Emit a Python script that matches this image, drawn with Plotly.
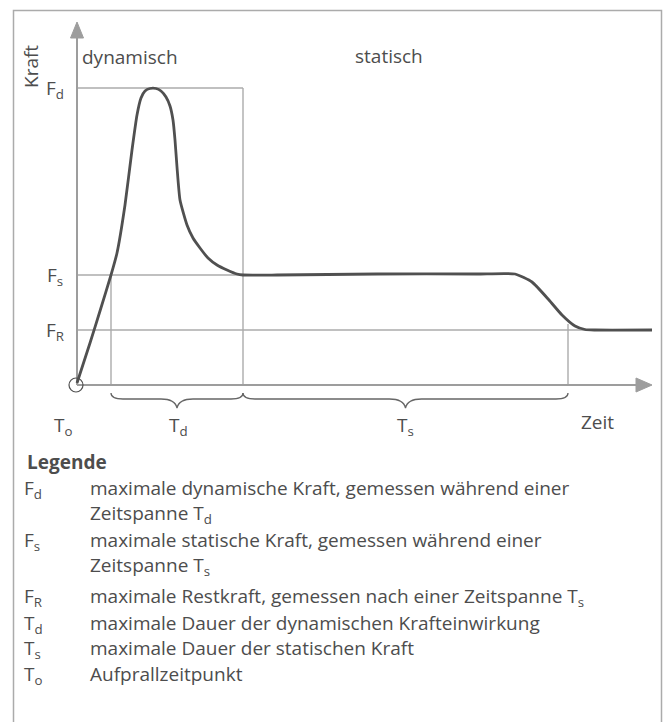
import plotly.graph_objects as go

# ---- data (time / force in arbitrary schematic units) ----
curve_t = [0, 13, 23, 34, 40, 48, 55, 60, 64, 68, 73, 79, 84, 89, 93, 96, 98, 100, 103, 110, 116, 123, 131, 140, 150, 160, 166,
           200, 300, 400, 438, 455, 472, 485, 498, 508, 518, 575]
curve_f = [2, 42, 74, 110, 132, 180, 235, 270, 287, 294, 296.5, 296.5, 294, 288, 279, 265, 245, 218, 185, 160, 147, 137, 127, 120, 115, 111, 110,
           110, 111, 111, 111, 103, 85, 70, 59, 55.5, 55, 55]

FD, FS, FR = 297, 110, 55          # force levels
T_FS, TD, TS = 34, 166, 491         # time marks
T_END, F_END = 575, 363             # axis ends (arrow tips)

force_labels = ["F<sub>d</sub>", "F<sub>s</sub>", "F<sub>R</sub>"]
force_values = [FD, FS, FR]
phase_labels = ["dynamisch", "statisch"]
time_labels = ["T<sub>o</sub>", "T<sub>d</sub>", "T<sub>s</sub>", "Zeit"]

legend_title = "Legende"
legend_symbols = ["F<sub>d</sub>", "F<sub>s</sub>", "F<sub>R</sub>", "T<sub>d</sub>", "T<sub>s</sub>", "T<sub>o</sub>"]
legend_texts = [
    "maximale dynamische Kraft, gemessen während einer<br>Zeitspanne T<sub>d</sub>",
    "maximale statische Kraft, gemessen während einer<br>Zeitspanne T<sub>s</sub>",
    "maximale Restkraft, gemessen nach einer Zeitspanne T<sub>s</sub>",
    "maximale Dauer der dynamischen Krafteinwirkung",
    "maximale Dauer der statischen Kraft",
    "Aufprallzeitpunkt",
]

FONT = "Open Sans"
TXT = "#4d4d4d"
GRID = "#ababab"
AXC = "#9d9d9d"
FS_TXT = 19

fig = go.Figure()

def seg(x, y, color=GRID, width=1.4):
    fig.add_trace(go.Scatter(x=x, y=y, mode="lines", line=dict(color=color, width=width),
                             hoverinfo="skip", showlegend=False))

# reference lines
seg([0, TD], [FD, FD])
seg([TD, TD], [0, FD])
seg([0, TD], [FS, FS])
seg([T_FS, T_FS], [0, FS])
seg([0, T_END], [FR, FR])
seg([TS, TS], [0, FR + 6])

# axes
seg([0, 0], [0, F_END - 14], AXC, 2)
seg([0, T_END - 14], [0, 0], AXC, 2)
fig.add_trace(go.Scatter(x=[-6.5, 6.5, 0, -6.5], y=[F_END - 16, F_END - 16, F_END, F_END - 16],
                         mode="lines", fill="toself", fillcolor=AXC, line=dict(color=AXC, width=1),
                         hoverinfo="skip", showlegend=False))
fig.add_trace(go.Scatter(x=[T_END - 16, T_END - 16, T_END, T_END - 16], y=[-7, 7, 0, -7],
                         mode="lines", fill="toself", fillcolor=AXC, line=dict(color=AXC, width=1),
                         hoverinfo="skip", showlegend=False))

# force curve
fig.add_trace(go.Scatter(x=curve_t, y=curve_f, mode="lines",
                         line=dict(color="#505050", width=2.8, shape="spline", smoothing=0.5),
                         hoverinfo="skip", showlegend=False))

# origin circle
fig.add_shape(type="circle", xref="x", yref="y", x0=-8, x1=6, y0=-7, y1=7,
              line=dict(color="#505050", width=1.2))

# frame
fig.add_shape(type="rect", xref="paper", yref="paper", x0=13.5 / 664, x1=661.5 / 664, y0=-0.05,
              y1=1 - 10.5 / 722, line=dict(color=GRID, width=1.5))

# braces
def brace(x0, x1):
    xm = (x0 + x1) / 2
    yt, yb, tip = -8, -14, -23
    return (f"M {x0},{yt} Q {x0},{yb} {x0+12},{yb} L {xm-16},{yb} Q {xm-2},{yb} {xm},{tip} "
            f"Q {xm+2},{yb} {xm+16},{yb} L {x1-12},{yb} Q {x1},{yb} {x1},{yt}")

for a, b in [(T_FS, TD), (TD, TS)]:
    fig.add_shape(type="path", xref="x", yref="y", path=brace(a, b),
                  line=dict(color="#666666", width=1.3))

def ann(x, y, text, xanchor="center", yanchor="middle", size=FS_TXT, **kw):
    fig.add_annotation(x=x, y=y, text=text, xref="x", yref="y", showarrow=False,
                       xanchor=xanchor, yanchor=yanchor,
                       font=dict(family=FONT, size=size, color=TXT), **kw)

# axis titles / labels
ann(-46, 318, "Kraft", textangle=-90)
ann(3, 328, phase_labels[0], xanchor="left")
ann(312, 329, phase_labels[1])
for lab, v in zip(force_labels, force_values):
    ann(-22, v - 1, lab)
ann(-14, -41, time_labels[0])
ann((T_FS + TD) / 2 + 1, -41, time_labels[1])
ann((TD + TS) / 2, -41, time_labels[2])
ann(520, -37, time_labels[3])

# legend block (row tops)
ann(-52, -62, f"<b>{legend_title}</b>", xanchor="left", yanchor="top")
rows = [-88, -140, -196, -223, -248, -274]
for sym, desc, yt in zip(legend_symbols, legend_texts, rows):
    ann(-55, yt, sym, xanchor="left", yanchor="top")
    ann(11, yt, desc, xanchor="left", yanchor="top", align="left")

fig.update_xaxes(range=[-77, 587], visible=False, fixedrange=True)
fig.update_yaxes(range=[-337, 385], visible=False, fixedrange=True)
fig.update_layout(width=664, height=722, margin=dict(l=0, r=0, t=0, b=0),
                  plot_bgcolor="white", paper_bgcolor="white", showlegend=False)

fig.write_html("out.html", config={"displayModeBar": False},
               post_script="document.body.style.margin='0';")
